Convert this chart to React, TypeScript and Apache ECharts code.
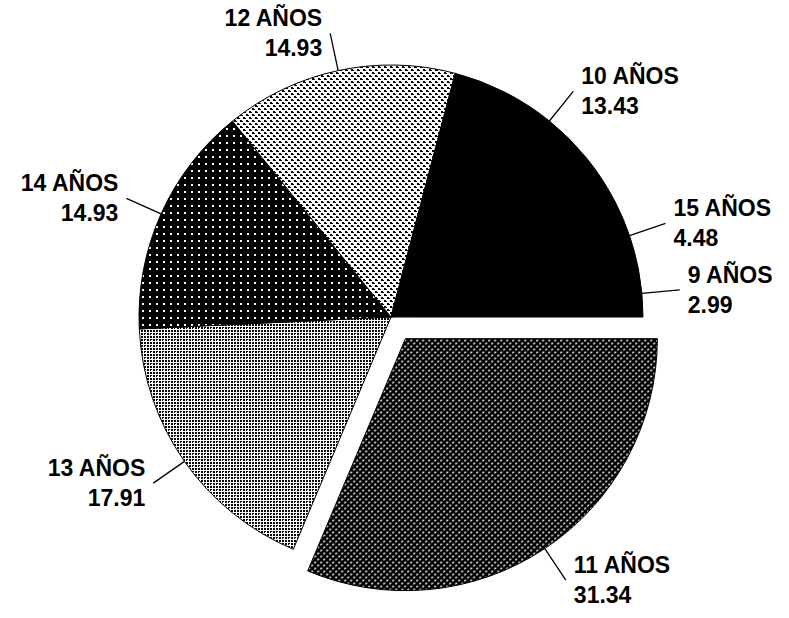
import React, { useEffect, useRef } from 'react';
import * as echarts from 'echarts';

const categories = ['11 AÑOS', '13 AÑOS', '14 AÑOS', '12 AÑOS', '10 AÑOS', '15 AÑOS', '9 AÑOS'];
const values = [31.34, 17.91, 14.93, 14.93, 13.43, 4.48, 2.99];
const patternKeys = ['darkCheck', 'midLattice', 'blackDots', 'lightDots', 'solid', 'solid', 'solid'];
const explodedName = '11 AÑOS';

type Cell = [number, number, number, number];

function makeTile(size: number, bg: string, fg: string, cells: Cell[]) {
  const c = document.createElement('canvas');
  c.width = size;
  c.height = size;
  const ctx = c.getContext('2d')!;
  ctx.fillStyle = bg;
  ctx.fillRect(0, 0, size, size);
  ctx.fillStyle = fg;
  cells.forEach(([x, y, w, h]) => ctx.fillRect(x, y, w, h));
  return { image: c.toDataURL(), repeat: 'repeat', imageWidth: size, imageHeight: size } as any;
}

function buildPatterns(): Record<string, any> {
  return {
    darkCheck: makeTile(6, '#000', '#fff', [
      [0, 0, 2, 1],
      [0, 1, 1, 1],
      [3, 3, 2, 1],
      [3, 4, 1, 1],
    ]),
    midLattice: makeTile(6, '#fff', '#000', [
      [0, 0, 2, 2],
      [3, 3, 2, 2],
      [3, 0, 2, 2],
      [0, 3, 2, 1],
      [0, 4, 1, 1],
    ]),
    blackDots: makeTile(7, '#000', '#fff', [[2, 2, 2, 2]]),
    lightDots: makeTile(6, '#fff', '#000', [
      [0, 0, 2, 2],
      [2, 1, 1, 1],
      [3, 3, 2, 2],
      [5, 4, 1, 1],
    ]),
    solid: '#000',
  };
}

export default function App() {
  const ref = useRef<HTMLDivElement>(null);

  useEffect(() => {
    if (!ref.current) return;
    const chart = echarts.init(ref.current, undefined, { renderer: 'svg' });
    const patterns = buildPatterns();
    const data = categories.map((name, i) => {
      const fill = patterns[patternKeys[i]];
      return {
        name,
        value: values[i],
        selected: name === explodedName,
        itemStyle: { color: fill, borderColor: '#000', borderWidth: 1 },
        select: { itemStyle: { color: fill, borderColor: '#000', borderWidth: 1 } },
      };
    });
    chart.setOption({
      animation: false,
      backgroundColor: '#fff',
      series: [
        {
          type: 'pie',
          center: [391, 317],
          radius: 252,
          startAngle: 0,
          clockwise: true,
          selectedMode: 'single',
          selectedOffset: 26,
          avoidLabelOverlap: false,
          emphasis: { disabled: true, scale: false },
          label: {
            show: true,
            position: 'outside',
            formatter: '{b}\n{c}',
            color: '#000',
            fontFamily: '"Liberation Sans", Arial, sans-serif',
            fontWeight: 'bold',
            fontSize: 23,
            lineHeight: 30,
            distanceToLabelLine: 8,
          },
          labelLine: {
            show: true,
            length: 38,
            length2: 0,
            smooth: false,
            lineStyle: { color: '#000', width: 1.3 },
          },
          data,
        },
      ],
    });
    return () => chart.dispose();
  }, []);

  return (
    <div
      ref={ref}
      style={{ position: 'absolute', left: 0, top: 0, width: 789, height: 618, background: '#fff' }}
    />
  );
}
